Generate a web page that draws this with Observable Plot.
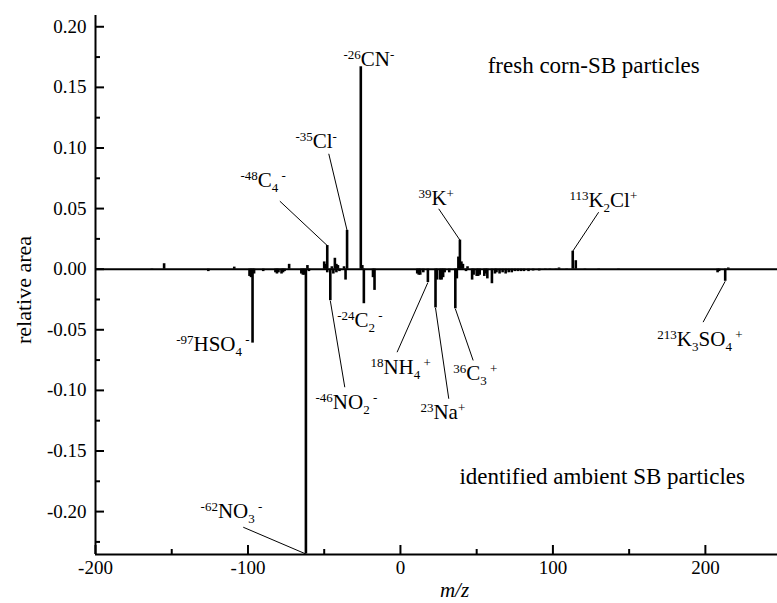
<!DOCTYPE html>
<html><head><meta charset="utf-8">
<script src="https://cdn.jsdelivr.net/npm/d3@7"></script>
<script src="https://cdn.jsdelivr.net/npm/@observablehq/plot@0.6"></script>
<style>body{margin:0;background:#fff}</style>
</head><body><div id="chart"></div>
<script>
// fresh corn-SB particles (positive direction)
const posMz  = [-155, -109, -73, -61, -50, -49, -48, -45, -43, -42, -41, -37, -35, -26, -25, 38, 39, 40, 41, 44, 104, 113, 115, 215];
const posVal = [0.0045, 0.0017, 0.004, 0.003, 0.006, 0.004, 0.0195, 0.002, 0.009, 0.004, 0.003, 0.002, 0.032, 0.167, 0.003, 0.010, 0.024, 0.006, 0.004, 0.002, 0.001, 0.0148, 0.007, 0.001];
// identified ambient SB particles (negative direction)
const negMz  = [-163, -126, -99, -98, -97, -96, -90, -82, -81, -80, -78, -77, -76, -65, -64, -63, -62, -60, -48, -46, -44, -42, -40, -36, -24, -18, -17,
                11, 12, 13, 15, 18, 23, 24, 26, 27, 28, 29, 32, 36, 37, 43, 47, 48, 50, 51, 52, 55, 56, 57, 60, 62, 63, 65, 67, 69, 71, 73, 75, 77, 79, 81, 84, 87, 91, 95, 98, 102, 109, 121, 130, 143, 208, 209, 213];
const negVal = [-0.001, -0.002, -0.006, -0.007, -0.061, -0.004, -0.002, -0.003, -0.004, -0.003, -0.004, -0.003, -0.002, -0.004, -0.005, -0.005, -0.235, -0.002, -0.003, -0.026, -0.004, -0.003, -0.002, -0.009, -0.0285, -0.007, -0.0175,
                -0.004, -0.005, -0.005, -0.003, -0.011, -0.032, -0.009, -0.009, -0.009, -0.007, -0.003, -0.003, -0.0327, -0.008, -0.002, -0.009, -0.005, -0.006, -0.006, -0.005, -0.006, -0.004, -0.008, -0.012, -0.004, -0.003, -0.004, -0.003, -0.004, -0.003, -0.003, -0.002, -0.002, -0.002, -0.002, -0.002, -0.0015, -0.0015, -0.001, -0.001, -0.001, -0.001, -0.001, -0.001, -0.001, -0.003, -0.002, -0.010];

const xDomain = [-200, 247.3];
const yDomain = [-0.2354, 0.2093];
const xMajorTicks = [-200, -100, 0, 100, 200];
const xMinorTicks = [-150, -50, 50, 150];
const yMajorTicks = [-0.20, -0.15, -0.10, -0.05, 0, 0.05, 0.10, 0.15, 0.20];
const yMinorTicks = [-0.225, -0.175, -0.125, -0.075, -0.025, 0.025, 0.075, 0.125, 0.175];

// peak labels (^{} superscript, _{} subscript)
const labelText = ["^{-26}CN^{-}", "^{-35}Cl^{-}", "^{-48}C_{4}^{ -}", "^{39}K^{+}", "^{113}K_{2}Cl^{+}",
                   "^{-24}C_{2}^{ -}", "^{-46}NO_{2}^{ -}", "^{-97}HSO_{4}^{ -}", "^{-62}NO_{3}^{ -}",
                   "^{18}NH_{4}^{ +}", "^{23}Na^{+}", "^{36}C_{3}^{ +}", "^{213}K_{3}SO_{4}^{ +}"];
const labelX = [-37.4, -68.9, -104.9, 11.8, 110.8, -41.5, -55.7, -147.1, -131.1, -19.7, 13.1, 34.6, 168.5];
const labelY = [0.1675, 0.0996, 0.0677, 0.0526, 0.0512, -0.0479, -0.1152, -0.0679, -0.2051, -0.0863, -0.1234, -0.0918, -0.063];

// leader lines: from label end to peak
const leaderX1 = [-47.0, -79.1, 25.1, 130.0, -36.5, -103.1, -2.2, 31.7, 47.7, 198.5];
const leaderY1 = [0.0952, 0.0561, 0.0498, 0.047, -0.0974, -0.2129, -0.0685, -0.1069, -0.0753, -0.0437];
const leaderPeak = [-35, -48, 39, 113, -46, -62, 18, 23, 36, 213];
const leaderSide = ["pos", "pos", "pos", "pos", "neg", "neg", "neg", "neg", "neg", "neg"];

const annotText = ["fresh corn-SB particles", "identified ambient SB particles"];
const annotX = [57.2, 38.7];
const annotY = [0.1617, -0.1771];

// ---- build tables
const spectrum = posMz.map((m, i) => ({mz: m, v: posVal[i]}))
  .concat(negMz.map((m, i) => ({mz: m, v: negVal[i]})));
const labels = labelText.map((t, i) => ({t, x: labelX[i], y: labelY[i]}));
const leaders = leaderPeak.map((p, i) => {
  const src = leaderSide[i] === "pos" ? posVal[posMz.indexOf(p)] : negVal[negMz.indexOf(p)];
  return {x1: leaderX1[i], y1: leaderY1[i], x2: p, y2: Math.max(src, yDomain[0])};
});
const annots = annotText.map((t, i) => ({t, x: annotX[i], y: annotY[i]}));

const W = 777, H = 603, mL = 95, mT = 15, mB = 49, mR = 0;
const plotH = H - mT - mB, plotW = W - mL - mR;
const serif = "Liberation Serif";

const chart = Plot.plot({
  width: W, height: H,
  marginLeft: mL, marginTop: mT, marginBottom: mB, marginRight: mR,
  x: {domain: xDomain},
  y: {domain: yDomain},
  style: {fontFamily: serif, fontSize: "19px"},
  marks: [
    Plot.ruleY([0], {stroke: "#000", strokeWidth: 2}),
    Plot.ruleX(spectrum, {x: "mz", y1: 0, y2: "v", stroke: "#000", strokeWidth: 2.6}),
    Plot.link(leaders, {x1: "x1", y1: "y1", x2: "x2", y2: "y2", stroke: "#000", strokeWidth: 1}),
    Plot.ruleX([xDomain[0]], {stroke: "#000", strokeWidth: 2}),
    Plot.ruleY([yDomain[0]], {stroke: "#000", strokeWidth: 2}),
    Plot.tickX(xMajorTicks, {x: d => d, insetTop: plotH - 9, stroke: "#000", strokeWidth: 2}),
    Plot.tickX(xMinorTicks, {x: d => d, insetTop: plotH - 5, stroke: "#000", strokeWidth: 2}),
    Plot.tickY(yMajorTicks, {y: d => d, insetRight: plotW - 9, stroke: "#000", strokeWidth: 2}),
    Plot.tickY(yMinorTicks, {y: d => d, insetRight: plotW - 5, stroke: "#000", strokeWidth: 2}),
    Plot.axisX({ticks: xMajorTicks, tickSize: 0, tickPadding: 6, tickFormat: d => String(d), label: null, fill: "#000", fontFamily: serif, fontSize: 19}),
    Plot.axisY({ticks: yMajorTicks, tickSize: 0, tickPadding: 9, tickFormat: d => d.toFixed(2), label: null, fill: "#000", fontFamily: serif, fontSize: 19}),
    Plot.text(labels, {x: "x", y: "y", text: "t", textAnchor: "start", lineAnchor: "bottom", fontSize: 21, fill: "#000", fontFamily: serif}),
    Plot.text(annots, {x: "x", y: "y", text: "t", textAnchor: "start", lineAnchor: "bottom", fontSize: 23, fill: "#000", fontFamily: serif}),
    Plot.text(["relative area"], {frameAnchor: "left", textAnchor: "middle", lineAnchor: "middle", rotate: -90, dx: -72, dy: 5, fontSize: 22, fill: "#000", fontFamily: serif}),
    Plot.text(["m/z"], {frameAnchor: "bottom", textAnchor: "middle", lineAnchor: "bottom", dx: 18, dy: 42, fontSize: 21, fontStyle: "italic", fill: "#000", fontFamily: serif})
  ]
});

chart.setAttribute("font-family", serif);

// rich text: superscripts / subscripts via tspans
d3.select(chart).selectAll("text").each(function () {
  const s = this.textContent;
  if (!/[\^_]\{/.test(s)) return;
  const parts = s.match(/\^\{[^}]*\}|_\{[^}]*\}|[^\^_]+/g);
  while (this.firstChild) this.removeChild(this.firstChild);
  let cur = 0;
  for (const p of parts) {
    let shift = 0, size = null, t = p;
    if (p.startsWith("^{")) { shift = -7; size = 13; t = p.slice(2, -1); }
    else if (p.startsWith("_{")) { shift = 5; size = 13; t = p.slice(2, -1); }
    const ts = document.createElementNS("http://www.w3.org/2000/svg", "tspan");
    ts.setAttribute("dy", shift - cur);
    cur = shift;
    if (size) ts.setAttribute("font-size", size);
    ts.textContent = t;
    this.appendChild(ts);
  }
});

document.getElementById("chart").append(chart);
</script>
</body></html>
